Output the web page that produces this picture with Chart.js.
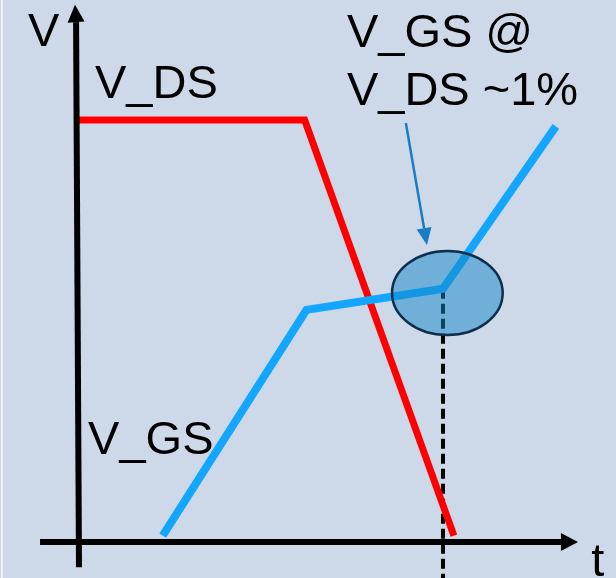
<!DOCTYPE html>
<html>
<head>
<meta charset="utf-8">
<script src="https://cdn.jsdelivr.net/npm/chart.js@4/dist/chart.umd.min.js"></script>
<style>
  html, body { margin: 0; padding: 0; background: #cdd8e8; }
  #wrap { position: relative; width: 616px; height: 578px; }
  #edge { position: absolute; left: 1px; top: 0; width: 2px; height: 578px; background: #eef2f8; }
  canvas { display: block; }
</style>
</head>
<body>
<div id="wrap">
  <canvas id="c" width="616" height="578"></canvas>
  <div id="edge"></div>
</div>
<script>
// Switching waveforms (time t, voltage V in arbitrary units)
const vdsT = [0, 6.2, 10.3];
const vdsV = [10, 10, 0.15];
const vgsT = [2.3, 6.25, 10.0, 13.1];
const vgsV = [0.15, 5.5, 6.0, 9.85];

// Point where V_GS is read (V_DS down to ~1%)
const markT = 10.0;
const markV = 6.0;

// Axis extents
const tAxisStart = -1.07, tAxisEnd = 13.24, tAxisTip = 13.71;
const vAxisStart = -0.6, vAxisEnd = 12.32, vAxisTip = 12.73;

// Text labels: [text, t, V]
const labelText = ['V', 'V_DS', 'V_GS @', 'V_DS ~1%', 'V_GS', 't'];
const labelT = [-1.40, 0.44, 7.36, 7.36, 0.25, 14.07];
const labelV = [11.75, 10.52, 11.73, 10.36, 2.09, -0.81];

// Callout arrow from the caption to the marked point
const calloutFrom = [8.98, 9.93];
const calloutTo = [9.56, 7.04];

const zip = (xs, ys) => xs.map((x, i) => ({ x, y: ys[i] }));

const overlay = {
  id: 'overlay',
  afterDatasetsDraw(chart) {
    const { ctx, scales: { x, y } } = chart;
    const px = t => x.getPixelForValue(t);
    const py = v => y.getPixelForValue(v);

    // filled arrowhead: tip, base (data units), half width in px
    function head(tipT, tipV, baseT, baseV, half, color) {
      const tx = px(tipT), ty = py(tipV), bx = px(baseT), by = py(baseV);
      const dx = tx - bx, dy = ty - by, len = Math.hypot(dx, dy);
      const nx = -dy / len * half, ny = dx / len * half;
      ctx.beginPath();
      ctx.moveTo(tx, ty);
      ctx.lineTo(bx + nx, by + ny);
      ctx.lineTo(bx - nx, by - ny);
      ctx.closePath();
      ctx.fillStyle = color;
      ctx.fill();
    }

    ctx.save();
    // axis arrowheads
    head(-0.11, vAxisTip, -0.08, vAxisEnd, 8.5, '#000');
    head(tAxisTip, 0, tAxisEnd, 0, 9, '#000');

    // highlight ellipse around the marked point
    const cx = px(markT + 0.12), cy = py(markV - 0.1);
    const rx = px(markT + 0.12 + 1.52) - cx;
    const ry = cy - py(markV - 0.1 + 0.995);
    ctx.beginPath();
    ctx.ellipse(cx, cy, rx, ry, 0, 0, Math.PI * 2);
    ctx.fillStyle = 'rgba(19,136,200,0.5)';
    ctx.fill();
    ctx.lineWidth = 2.5;
    ctx.strokeStyle = '#0c2f4e';
    ctx.stroke();

    // callout arrow
    const hx = calloutTo[0], hv = calloutTo[1];
    const fx = px(calloutFrom[0]), fy = py(calloutFrom[1]);
    const tx = px(hx), ty = py(hv);
    const len = Math.hypot(tx - fx, ty - fy);
    const ux = (tx - fx) / len, uy = (ty - fy) / len;
    const bx = tx - ux * 17, by = ty - uy * 17;
    ctx.beginPath();
    ctx.moveTo(fx, fy);
    ctx.lineTo(bx, by);
    ctx.lineWidth = 2.5;
    ctx.strokeStyle = '#1a7cc4';
    ctx.stroke();
    head(hx, hv, x.getValueForPixel(bx), y.getValueForPixel(by), 7.5, '#1a7cc4');

    // text labels
    ctx.fillStyle = '#000';
    ctx.font = '47px "Liberation Sans", Arial, sans-serif';
    ctx.textAlign = 'left';
    ctx.textBaseline = 'alphabetic';
    labelText.forEach((s, i) => ctx.fillText(s, px(labelT[i]), py(labelV[i])));
    ctx.restore();
  }
};

new Chart(document.getElementById('c'), {
  type: 'scatter',
  data: {
    datasets: [
      {
        label: 'V axis',
        data: [{ x: -0.08, y: vAxisEnd }, { x: 0, y: vAxisStart }],
        showLine: true, borderColor: '#000', borderWidth: 6,
        borderCapStyle: 'butt', pointRadius: 0, order: 1
      },
      {
        label: 't axis',
        data: [{ x: tAxisStart, y: 0 }, { x: tAxisEnd, y: 0 }],
        showLine: true, borderColor: '#000', borderWidth: 6,
        borderCapStyle: 'butt', pointRadius: 0, order: 2
      },
      {
        label: 'V_GS',
        data: zip(vgsT, vgsV),
        showLine: true, borderColor: '#13a6ff', borderWidth: 8,
        borderCapStyle: 'butt', borderJoinStyle: 'miter', pointRadius: 0, order: 3
      },
      {
        label: 'V_DS',
        data: zip(vdsT, vdsV),
        showLine: true, borderColor: '#ff0000', borderWidth: 7,
        borderCapStyle: 'butt', borderJoinStyle: 'miter', pointRadius: 0, order: 4
      },
      {
        label: 'marker',
        data: [{ x: markT, y: markV }, { x: markT, y: -1 }],
        showLine: true, borderColor: '#000', borderWidth: 4,
        borderDash: [10, 5], borderCapStyle: 'butt', pointRadius: 0, order: 5
      }
    ]
  },
  options: {
    responsive: false,
    animation: false,
    devicePixelRatio: 1,
    layout: { padding: 0 },
    events: [],
    plugins: { legend: { display: false }, tooltip: { enabled: false } },
    scales: {
      x: { type: 'linear', min: -2.170, max: 14.753, display: false },
      y: { type: 'linear', min: -0.853, max: 12.844, display: false }
    }
  },
  plugins: [overlay]
});
</script>
</body>
</html>
